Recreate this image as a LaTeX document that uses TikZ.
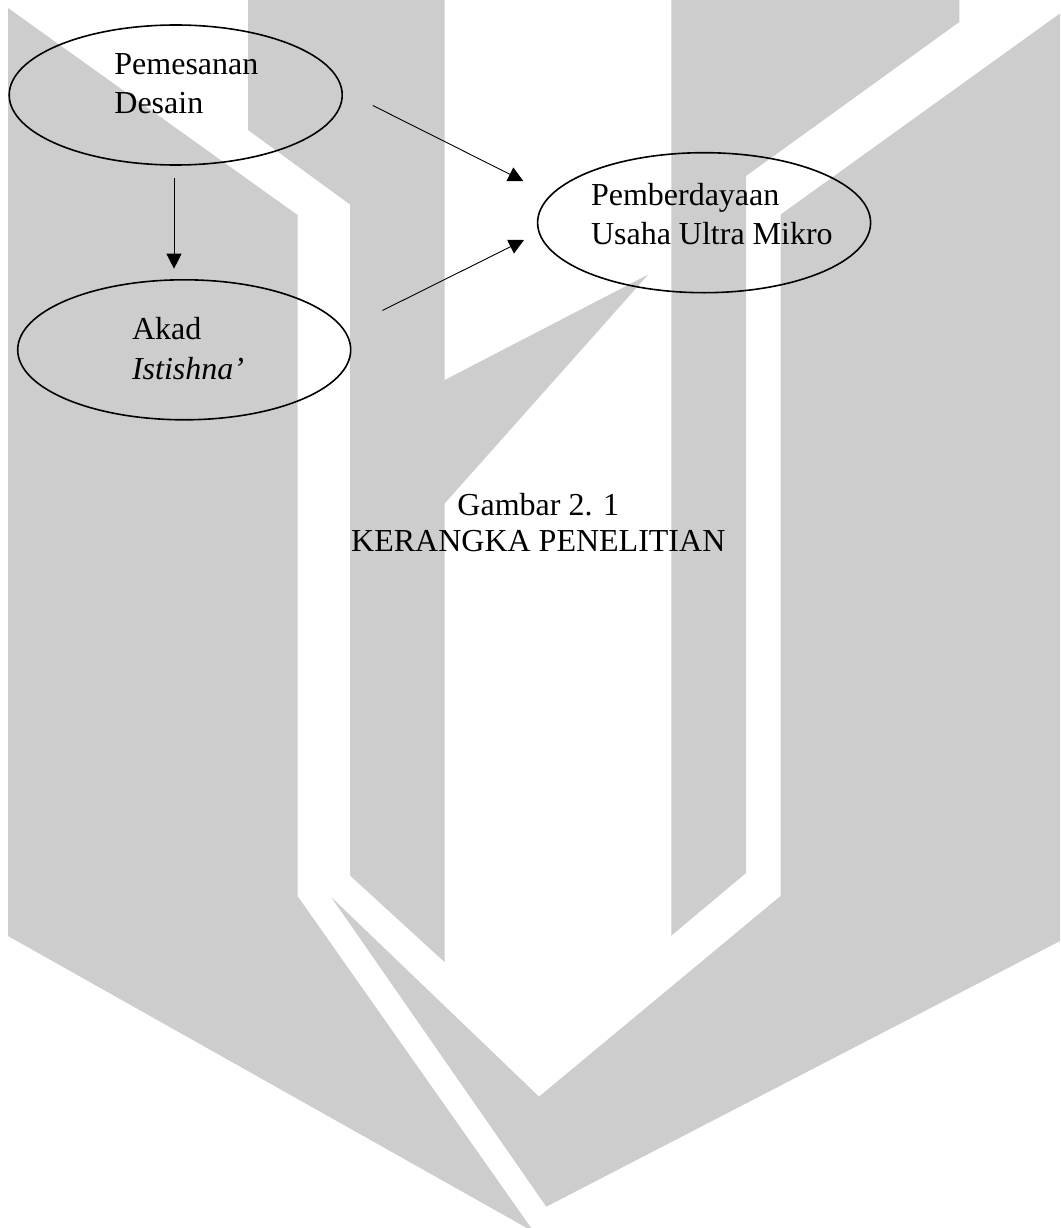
\documentclass[tikz,border=0pt]{standalone}
\usepackage{fontspec}
\setmainfont{Liberation Serif}
\usetikzlibrary{shapes.geometric,arrows.meta}
\definecolor{wm}{RGB}{205,205,205}
\tikzset{
  wmshape/.style={fill=wm,draw=none},
  ellbox/.style={draw=black,ellipse,line width=1.6pt,minimum width=333pt,minimum height=140pt,inner sep=0pt},
  lbl/.style={inner sep=0pt,anchor=base west,font=\fontsize{32}{38}\selectfont},
  captxt/.style={inner sep=0pt,anchor=base,font=\fontsize{32}{38}\selectfont},
  arr/.style={line width=0.9pt,-{Triangle[length=15pt,width=15pt]}}
}
\begin{document}
\begin{tikzpicture}[x=1pt,y=-1pt]
\useasboundingbox (0,0) rectangle (1060,1228);
% watermark
\begin{scope}
\clip (0,0) rectangle (1060,1228);
\fill[wmshape] (8,8) -- (297.5,215) -- (297.5,896) -- (534,1232) -- (8,936) -- cycle;
\fill[wmshape] (248,0) -- (444.5,0) -- (444.5,962) -- (350,875.5) -- (350,204.5) -- (248,130) -- cycle;
\fill[wmshape] (648.3,274.5) -- (430,387.6) -- (430,520) -- cycle;
\fill[wmshape] (671.3,0) -- (959.3,0) -- (959.3,22) -- (746,176) -- (746,873) -- (671.4,935.6) -- cycle;
\fill[wmshape] (1062,12) -- (780.5,214.6) -- (780.5,896) -- (539,1096.6) -- (331.3,897.2) -- (546.3,1206.7) -- (1062,940) -- cycle;
\end{scope}
% ellipses
\node[ellbox] (e1) at (175.7,95) {};
\node[ellbox] (e2) at (184.2,349.8) {};
\node[ellbox] (e3) at (704.1,222.7) {};
% texts
\node[lbl] (t1a) at (114.2,74.4) {Pemesanan};
\node[lbl] (t1b) at (114.2,113.2) {Desain};
\node[lbl] (t2a) at (131.8,339.5) {Akad};
\node[lbl] (t2b) at (131.8,379) {\itshape Istishna’};
\node[lbl] (t3a) at (590.8,205.4) {Pemberdayaan};
\node[lbl] (t3b) at (590.8,244) {Usaha Ultra Mikro};
\node[captxt] (c1) at (538.3,515) {Gambar 2. 1};
\node[captxt] (c2) at (538.3,551.7) {KERANGKA PENELITIAN};
% arrows
\coordinate (a1s) at (372.8,105.5);
\coordinate (a1e) at (523.3,181);
\coordinate (a2s) at (382.4,310.5);
\coordinate (a2e) at (524,240);
\coordinate (a3s) at (174,178.4);
\coordinate (a3e) at (174,268.7);
\draw[arr] (a1s) -- (a1e);
\draw[arr] (a2s) -- (a2e);
\draw[arr] (a3s) -- (a3e);
\end{tikzpicture}
\end{document}
